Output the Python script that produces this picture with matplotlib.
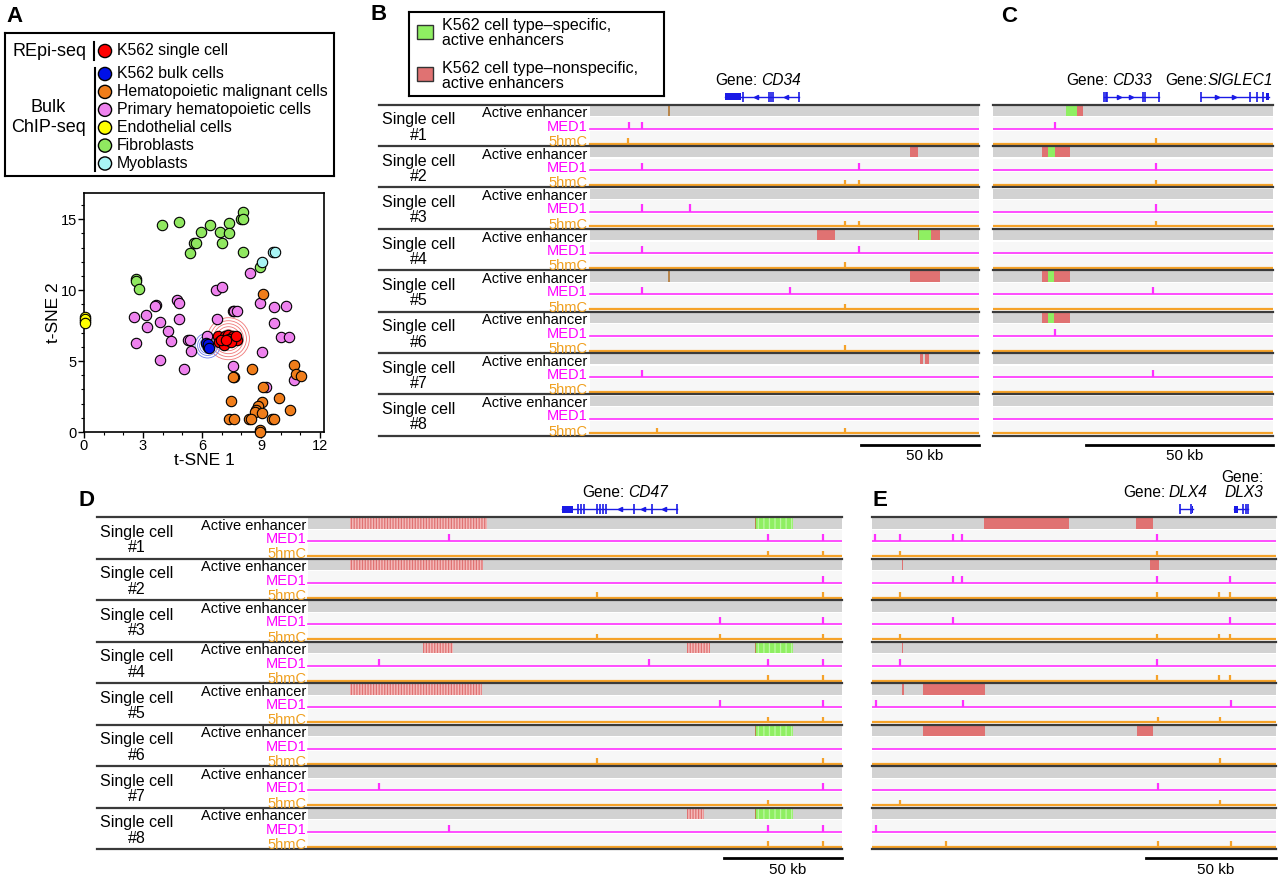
import numpy as np
import matplotlib
matplotlib.use("Agg")
import matplotlib.pyplot as plt
from matplotlib.patches import Rectangle
from matplotlib.ticker import MultipleLocator
from matplotlib.transforms import offset_copy

plt.rcParams["font.family"] = ["Liberation Sans", "DejaVu Sans"]
plt.rcParams["hatch.linewidth"] = 0.9

W, H = 1280, 876

# ---- panel A: t-SNE of enhancer profiles ----
GREEN_X = [3.95, 4.85, 5.93, 6.39, 5.57, 5.70, 5.40, 6.90, 7.03, 7.35, 7.38, 7.96, 8.06, 8.07, 8.10, 2.62, 2.62, 2.80, 8.95]
GREEN_Y = [14.6, 14.8, 14.1, 14.6, 13.3, 13.3, 12.6, 14.1, 13.3, 14.7, 14.0, 15.0, 15.5, 15.0, 12.7, 10.8, 10.66, 10.07, 11.6]
CYAN_X = [9.07, 9.60, 9.70]
CYAN_Y = [12.0, 12.66, 12.66]
YELLOW_X = [0.05, 0.05, 0.07, 0.04]
YELLOW_Y = [8.1, 7.8, 7.95, 7.7]
PINK_X = [8.43, 6.72, 7.00, 4.73, 4.81, 3.65, 3.63, 2.52, 3.13, 3.18, 3.87, 4.29, 4.43, 4.85, 2.65, 5.27,
          5.39, 5.42, 3.85, 5.07, 6.77, 7.55, 7.65, 7.80, 6.25, 8.94, 9.68, 10.29, 9.64, 10.02, 10.40,
          9.04, 7.55, 9.24, 10.66]
PINK_Y = [11.2, 10.0, 10.24, 9.3, 9.06, 8.94, 8.87, 8.1, 8.26, 7.39, 7.74, 7.15, 6.42, 7.95, 6.24, 6.47,
          6.47, 5.74, 5.06, 4.42, 8.0, 8.54, 8.54, 8.54, 6.78, 9.13, 8.78, 8.9, 7.67, 6.7, 6.7,
          5.62, 4.66, 3.18, 3.65]
ORANGE_X = [9.10, 10.70, 10.80, 11.05, 8.53, 7.65, 7.57, 9.12, 7.45, 9.93, 9.07, 8.83, 8.73, 8.70,
            9.07, 10.46, 7.38, 7.60, 8.38, 8.50, 9.54, 9.68, 8.95, 8.95]
ORANGE_Y = [9.7, 4.7, 4.12, 3.93, 4.47, 3.88, 3.88, 3.18, 2.19, 2.38, 2.1, 1.81, 1.53, 1.41,
            1.34, 1.53, 0.94, 0.94, 0.92, 0.92, 0.92, 0.92, 0.16, 0.0]
BLUE_X = [6.20, 6.30, 6.28, 6.35]
BLUE_Y = [6.30, 6.00, 6.20, 5.90]
RED_X = [6.80, 7.15, 7.31, 7.55, 7.75, 6.87, 7.13, 7.38, 7.65, 7.80, 6.96, 7.48, 7.75, 7.21]
RED_Y = [6.78, 6.78, 6.87, 6.78, 6.70, 6.35, 6.16, 6.59, 6.47, 6.52, 6.47, 6.35, 6.80, 6.47]

LEG_A_LABELS = ["K562 single cell", "K562 bulk cells", "Hematopoietic malignant cells",
                "Primary hematopoietic cells", "Endothelial cells", "Fibroblasts", "Myoblasts"]
C_RED, C_BLUE, C_ORANGE, C_PINK = "#ff0000", "#0010e8", "#f07d1a", "#ee82ee"
C_YELLOW, C_GREEN, C_CYAN = "#ffff00", "#90e860", "#a8f4f4"
LEG_A_COLORS = [C_RED, C_BLUE, C_ORANGE, C_PINK, C_YELLOW, C_GREEN, C_CYAN]

# ---- panels B-E: genome tracks (positions in kb from left edge of window) ----
B_SPAN = 165.0
B_ENH = [[(33.4, 33.9, "x")], [(135.8, 139.2, "r")], [],
         [(96.4, 103.9, "r"), (139.2, 139.6, "x"), (139.6, 144.7, "g"), (144.7, 148.6, "r")],
         [(33.4, 33.9, "x"), (135.8, 148.6, "r")], [],
         [(139.9, 141.3, "r"), (142.2, 143.6, "r")], []]
B_MED1 = [[16.5, 22.3], [22.3, 114.3], [22.3, 42.6], [22.3, 114.3], [22.3, 84.8], [], [22.3], []]
B_HMC = [[16.1], [108.3, 114.3], [108.3, 114.2], [108.3], [108.3], [108.3], [], [28.7, 108.3]]
B_GENES = [("CD34", 57.3, 88.6, "-", [65.1, 76.0, 76.8, 77.7, 88.6], (57.3, 64.3))]

C_SPAN = 75.0
C_ENH = [[(19.6, 22.5, "g"), (22.5, 24.0, "r")],
         [(13.2, 14.8, "r"), (14.8, 16.7, "g"), (16.7, 20.7, "r")], [], [],
         [(13.2, 14.8, "r"), (14.8, 16.4, "g"), (16.4, 20.7, "r")],
         [(13.2, 14.8, "r"), (14.8, 16.4, "g"), (16.4, 20.7, "r")], [], []]
C_MED1 = [[16.6], [43.6], [43.6], [], [42.8], [16.6], [42.8], []]
C_HMC = [[43.6], [43.6], [43.6], [], [], [], [], []]
C_GENES = [("CD33", 29.8, 44.5, "+", [29.8, 30.2, 30.6, 40.1, 40.6, 44.5], None),
           ("SIGLEC1", 55.7, 73.8, "+", [55.7, 68.8, 70.6, 72.2], (73.2, 73.8))]

D_SPAN = 226.0
D_ENH = [[(17.9, 75.9, "r"), (189.2, 189.7, "x"), (189.7, 205.3, "g")],
         [(17.9, 74.1, "r")], [],
         [(48.8, 61.2, "r"), (160.3, 170.3, "r"), (189.2, 189.7, "x"), (189.7, 205.3, "g")],
         [(17.9, 73.7, "r")],
         [(189.2, 189.7, "x"), (189.7, 205.3, "g")], [],
         [(160.3, 167.5, "r"), (189.2, 189.7, "x"), (189.7, 205.3, "g")]]
D_MED1 = [[59.6, 194.7, 218.0], [218.0], [174.4, 218.0], [29.8, 144.4, 194.7, 218.0],
          [174.4, 218.0], [], [29.8, 218.0], [59.6, 194.7, 218.0]]
D_HMC = [[194.7, 218.0], [122.3, 218.0], [122.3, 174.4, 218.0], [194.7, 218.0],
         [194.7, 218.0], [122.3, 218.0], [194.7], [194.7, 218.0]]
D_GENES = [("CD47", 107.6, 156.2, "-",
            [114.1, 115.6, 116.9, 122.2, 123.5, 124.8, 126.1, 137.9, 145.5, 156.2], (107.6, 112.0))]

E_SPAN = 155.0
E_ENH = [[(42.8, 75.4, "r"), (101.3, 107.7, "r")],
         [(11.5, 11.9, "r"), (106.7, 110.0, "r")], [],
         [(11.5, 12.0, "r")],
         [(11.7, 12.2, "r"), (19.4, 43.5, "r")],
         [(19.4, 43.5, "r"), (101.6, 108.0, "r")], [], []]
E_MED1 = [[1.3, 10.7, 31.1, 34.5, 109.3], [31.1, 34.5, 109.3, 137.4], [31.1, 137.4], [10.7, 109.3],
          [1.7, 34.9, 137.6], [], [109.7], [1.7]]
E_HMC = [[10.7, 109.3], [10.7, 109.3, 133.3, 137.4], [10.7, 109.3, 133.3, 137.4], [109.3, 133.3, 137.4],
         [109.7, 133.6], [133.6], [10.7, 133.6], [28.5, 109.7, 137.6]]
E_GENES = [("DLX4", 118.2, 123.3, "+", [118.2, 122.4], (122.8, 123.3)),
           ("DLX3", 138.7, 144.2, "-", [142.3, 143.6, 144.2], (138.7, 140.6))]

# label placement: right edge of the gene label relative to gene end, in pixels
LABEL_SHIFT = {"CD34": 2, "CD33": -7, "SIGLEC1": 5, "CD47": -9, "DLX4": 14, "DLX3": 16}
NO_SPACE = {"SIGLEC1"}
TWO_LINE = {"DLX3"}

GRAY = "#d2d2d2"
LANE = "#f7f7f7"
MAG = "#ff30ff"
ORG = "#f5a229"
LINE = "#3a3a3a"
GENE = "#1a1ae6"
ENH_COLORS = {"r": "#e07272", "g": "#8fef62", "x": "#b8864c"}

fig = plt.figure(figsize=(W / 100, H / 100), dpi=100)
renderer = fig.canvas.get_renderer()


def px_axes(x0, y0, x1, y1):
    return fig.add_axes([x0 / W, 1 - y1 / H, (x1 - x0) / W, (y1 - y0) / H])


def draw_gene(ax, gene, ppk):
    name, start, end, strand, exons, block = gene
    y = -0.19
    ax.plot([start, end], [y, y], color=GENE, lw=1.0, clip_on=False)
    ax.vlines(exons, y - 0.12, y + 0.12, color=GENE, lw=1.2, clip_on=False)
    feats = list(exons)
    if block is not None:
        ax.add_patch(Rectangle((block[0], y - 0.085), block[1] - block[0], 0.17,
                               fc=GENE, lw=0, clip_on=False))
        feats += list(block)
    feats = sorted(feats)
    marker = ">" if strand == "+" else "<"
    for a, b in zip(feats[:-1], feats[1:]):
        n = int((b - a) * ppk // 17)
        if n >= 1:
            xs = [a + (b - a) * (k + 1) / (n + 1) for k in range(n)]
            ax.plot(xs, [y] * n, ls="none", marker=marker, ms=3, color=GENE, clip_on=False)
    # gene label: "Gene:" upright, name italic
    shift = LABEL_SHIFT.get(name, 0)
    tr = offset_copy(ax.transData, fig=fig, x=shift, units="dots")
    t = ax.text(end, -0.47, name, style="italic", ha="right", va="baseline", fontsize=11.2,
                transform=tr)
    w = t.get_window_extent(renderer).width
    if name in TWO_LINE:
        ax.text(end, -0.84, "Gene:", ha="right", va="baseline", fontsize=11.2, transform=tr)
    else:
        gap = 0.5 if name in NO_SPACE else 3.5
        ax.text(end, -0.47, "Gene:", ha="right", va="baseline", fontsize=11.2,
                transform=offset_copy(ax.transData, fig=fig, x=shift - w - gap, units="dots"))


def draw_tracks(ax, span, enh, med1, hmc, genes, ppk, left=0.0, labels=False, hatched=False):
    ax.set_xlim(left, span)
    ax.set_ylim(8.0, 0.0)
    ax.axis("off")
    lab_tr = offset_copy(ax.transData, fig=fig, x=-2, units="dots")
    for i in range(8):
        ax.add_patch(Rectangle((0, i + 0.03), span, 0.25, fc=GRAY, lw=0))
        ax.add_patch(Rectangle((0, i + 0.31), span, 0.29, fc=LANE, lw=0))
        ax.add_patch(Rectangle((0, i + 0.635), span, 0.31, fc=LANE, lw=0))
        for s, e, kind in enh[i]:
            if hatched and kind == "r":
                ax.add_patch(Rectangle((s, i + 0.03), e - s, 0.25, fc="#f3baba",
                                       ec=ENH_COLORS["r"], hatch="||||||", lw=0))
            elif hatched and kind == "g":
                ax.add_patch(Rectangle((s, i + 0.03), e - s, 0.25, fc=ENH_COLORS["g"],
                                       ec="#bff7a6", hatch="|||", lw=0))
            else:
                ax.add_patch(Rectangle((s, i + 0.03), e - s, 0.25, fc=ENH_COLORS[kind], lw=0))
        ax.plot([0, span], [i + 0.585] * 2, color=MAG, lw=1.2)
        ax.plot([0, span], [i + 0.945] * 2, color=ORG, lw=1.6)
        ax.vlines(med1[i], i + 0.585, i + 0.585 - 0.17, color=MAG, lw=1.6)
        ax.vlines(hmc[i], i + 0.945, i + 0.945 - 0.13, color=ORG, lw=1.6)
        ax.plot([left, span], [i, i], color=LINE, lw=1.6, clip_on=False)
        if labels:
            ax.text(0, i + 0.31, "Active enhancer", ha="right", va="baseline",
                    fontsize=10.5, transform=lab_tr)
            ax.text(0, i + 0.63, "MED1", ha="right", va="baseline", fontsize=10.5,
                    color="#ff00ff", transform=lab_tr)
            ax.text(0, i + 1.0, "5hmC", ha="right", va="baseline", fontsize=10.5,
                    color="#f0a020", transform=lab_tr)
            ax.text(left * 0.81, i + 0.37, "Single cell", ha="center", va="center", fontsize=11.5)
            ax.text(left * 0.81, i + 0.74, f"#{i + 1}", ha="center", va="center", fontsize=11.5)
    ax.plot([left, span], [8, 8], color=LINE, lw=1.6, clip_on=False)
    # scale bar
    ax.plot([span - 50, span], [8.22, 8.22], color="black", lw=2, clip_on=False)
    ax.text(span - 25, 8.5, "50 kb", ha="center", va="center", fontsize=11,
            transform=offset_copy(ax.transData, fig=fig, x=5, units="dots"))
    for g in genes:
        draw_gene(ax, g, ppk)


# panel letters
for letter, (x, y) in {"A": (6, 16), "B": (371, 15), "C": (1001, 17),
                       "D": (79, 501), "E": (872, 501)}.items():
    fig.text(x / W, 1 - y / H, letter, fontsize=16, fontweight="bold", ha="left", va="center")

# ---- A legend ----
lax = px_axes(5, 33, 334, 176)
lax.set_xlim(0, 329)
lax.set_ylim(143, 0)
lax.set_xticks([])
lax.set_yticks([])
for sp in lax.spines.values():
    sp.set_linewidth(1.5)
rows_y = [18] + [41 + 17.9 * k for k in range(6)]
lax.scatter([100] * 7, rows_y, s=90, c=LEG_A_COLORS, edgecolors="black", linewidths=1.0, zorder=3)
for yy, lab in zip(rows_y, LEG_A_LABELS):
    lax.text(112, yy, lab, ha="left", va="center", fontsize=11.4)
lax.text(45, 18, "REpi-seq", ha="center", va="center", fontsize=13)
lax.text(43, 75, "Bulk", ha="center", va="center", fontsize=13)
lax.text(43, 94, "ChIP-seq", ha="center", va="center", fontsize=13)
lax.plot([89, 89], [9, 27], color="black", lw=1.5)
lax.plot([90, 90], [35, 138], color="black", lw=1.5)

# ---- A scatter ----
sax = px_axes(84, 193, 324, 432)
sax.set_xlim(0, 12.2)
sax.set_ylim(0, 16.85)
pt = 0.72
sax.scatter([np.mean(RED_X)] * 5, [np.mean(RED_Y)] * 5, s=[(d * pt) ** 2 for d in (18, 24, 30, 36, 42)],
            facecolors="none", edgecolors="#f07878", linewidths=0.6, zorder=2)
sax.scatter([np.mean(BLUE_X)] * 4, [np.mean(BLUE_Y)] * 4, s=[(d * pt) ** 2 for d in (12, 16, 20, 25)],
            facecolors="none", edgecolors="#7080f0", linewidths=0.6, zorder=2)
for xs, ys, col in [(GREEN_X, GREEN_Y, C_GREEN), (CYAN_X, CYAN_Y, C_CYAN), (PINK_X, PINK_Y, C_PINK),
                    (YELLOW_X, YELLOW_Y, C_YELLOW), (ORANGE_X, ORANGE_Y, C_ORANGE),
                    (BLUE_X, BLUE_Y, C_BLUE), (RED_X, RED_Y, C_RED)]:
    sax.scatter(xs, ys, s=56, c=col, edgecolors="black", linewidths=0.8, clip_on=False, zorder=3)
sax.set_xticks([0, 3, 6, 9, 12])
sax.set_yticks([0, 5, 10, 15])
sax.xaxis.set_minor_locator(MultipleLocator(1))
sax.yaxis.set_minor_locator(MultipleLocator(1))
sax.tick_params(which="major", direction="out", length=4, width=1, labelsize=10.5, pad=1)
sax.tick_params(which="minor", direction="out", length=2, width=0.8)
for sp in sax.spines.values():
    sp.set_linewidth(1.2)
sax.set_xlabel("t-SNE 1", fontsize=12.5, labelpad=0)
sax.set_ylabel("t-SNE 2", fontsize=12.5, labelpad=0)

# ---- B legend ----
bl = px_axes(409, 12, 664, 96)
bl.set_xlim(0, 255)
bl.set_ylim(84, 0)
bl.set_xticks([])
bl.set_yticks([])
for sp in bl.spines.values():
    sp.set_linewidth(1.5)
bl.add_patch(Rectangle((8, 13), 16, 14, fc=ENH_COLORS["g"], ec="#333333", lw=1))
bl.add_patch(Rectangle((8, 55), 16, 14, fc=ENH_COLORS["r"], ec="#333333", lw=1))
bl.text(33, 13.5, "K562 cell type\u2013specific,", ha="left", va="center", fontsize=11.6)
bl.text(33, 28.5, "active enhancers", ha="left", va="center", fontsize=11.6)
bl.text(33, 56, "K562 cell type\u2013nonspecific,", ha="left", va="center", fontsize=11.6)
bl.text(33, 71, "active enhancers", ha="left", va="center", fontsize=11.6)

# ---- track panels ----
ax_b = px_axes(378.5, 104.5, 979, 435.7)
draw_tracks(ax_b, B_SPAN, B_ENH, B_MED1, B_HMC, B_GENES, 2.36, left=-89.5, labels=True)
ax_c = px_axes(993, 104.5, 1273, 435.7)
draw_tracks(ax_c, C_SPAN, C_ENH, C_MED1, C_HMC, C_GENES, 3.72)
ax_d = px_axes(97, 517, 842, 849)
draw_tracks(ax_d, D_SPAN, D_ENH, D_MED1, D_HMC, D_GENES, 2.36, left=-89.4, labels=True, hatched=True)
ax_e = px_axes(872, 517, 1276, 849)
draw_tracks(ax_e, E_SPAN, E_ENH, E_MED1, E_HMC, E_GENES, 2.6)

fig.savefig("out.png", dpi=100)
